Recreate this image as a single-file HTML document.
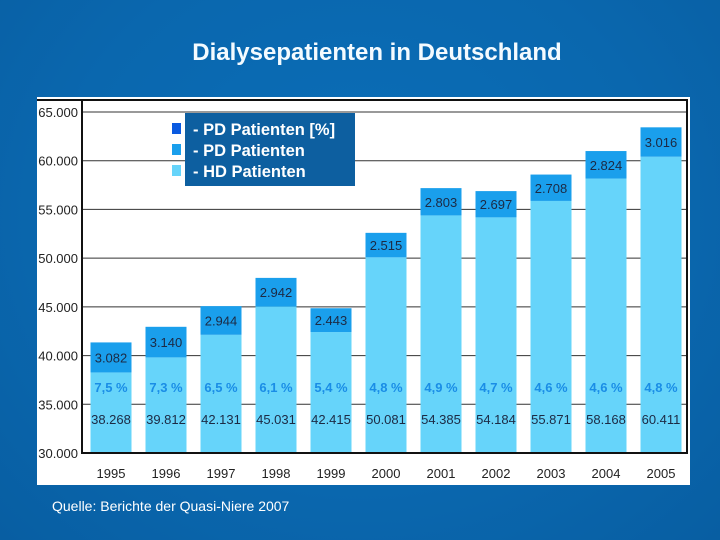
<!DOCTYPE html>
<html><head><meta charset="utf-8"><style>
html,body{margin:0;padding:0}
body{width:720px;height:540px;overflow:hidden;background:radial-gradient(ellipse at 50% 40%,#0b6eb8 0%,#0a67ae 60%,#085ea2 100%);font-family:"Liberation Sans",sans-serif;position:relative}
#title{position:absolute;left:0;width:754px;top:39px;text-align:center;color:#f4fbff;font-size:24px;font-weight:bold}
#src{position:absolute;left:52px;top:498px;color:#fff;font-size:14px}
</style></head><body>
<div id="title">Dialysepatienten in Deutschland</div>
<svg id="chart" width="720" height="540" style="position:absolute;left:0;top:0" font-family="Liberation Sans, sans-serif"></svg>
<div id="src">Quelle: Berichte der Quasi-Niere 2007</div>
<script>
const years=["1995","1996","1997","1998","1999","2000","2001","2002","2003","2004","2005"];
const hd=[38268,39812,42131,45031,42415,50081,54385,54184,55871,58168,60411];
const pd=[3082,3140,2944,2942,2443,2515,2803,2697,2708,2824,3016];
const hdLabels=["38.268","39.812","42.131","45.031","42.415","50.081","54.385","54.184","55.871","58.168","60.411"];
const pdLabels=["3.082","3.140","2.944","2.942","2.443","2.515","2.803","2.697","2.708","2.824","3.016"];
const pct=["7,5 %","7,3 %","6,5 %","6,1 %","5,4 %","4,8 %","4,9 %","4,7 %","4,6 %","4,6 %","4,8 %"];
const yTicks=[30000,35000,40000,45000,50000,55000,60000,65000];
const yTickLabels=["30.000","35.000","40.000","45.000","50.000","55.000","60.000","65.000"];
const NS="http://www.w3.org/2000/svg";
const svg=document.getElementById('chart');
const L=82,R=687,T=100,B=453;
const y=v=>453-(v-30000)*(453-112)/35000;
const x=i=>111+i*55;
const bw=41;
function mk(tag,attrs,parent){const e=document.createElementNS(NS,tag);for(const k in attrs)e.setAttribute(k,attrs[k]);(parent||svg).appendChild(e);return e;}
let p=mk('rect',{x:37,y:97,width:653,height:388,fill:'#fff'});


yTicks.forEach((t,i)=>{
  let g=mk('line',{x1:L,x2:R,y1:y(t),y2:y(t),stroke:'#333','stroke-width':1});
  
  
  let tx=mk('text',{x:78,y:y(t)+5,'text-anchor':'end','font-size':13,fill:'#222'});
  tx.textContent=yTickLabels[i];
  
  
});
years.forEach((yr,i)=>{
  const cx=x(i);
  let b1=mk('rect',{x:cx-bw/2,y:y(hd[i]),width:bw,height:y(30000)-y(hd[i]),fill:'#66d4fa'});
  
  
  let b2=mk('rect',{x:cx-bw/2,y:y(hd[i]+pd[i]),width:bw,height:y(hd[i])-y(hd[i]+pd[i]),fill:'#1a9fec'});
  
  
  let t1=mk('text',{x:cx,y:424,'text-anchor':'middle','font-size':13,fill:'#1c2a44'});
  t1.textContent=hdLabels[i];
  
  
  let t2=mk('text',{x:cx,y:392,'text-anchor':'middle','font-size':13,'font-weight':'bold',fill:'#1a8de6'});
  t2.textContent=pct[i];
  
  
  const mid=(y(hd[i])+y(hd[i]+pd[i]))/2;
  let t3=mk('text',{x:cx,y:mid+5,'text-anchor':'middle','font-size':13,fill:'#1c2a44'});
  t3.textContent=pdLabels[i];
  
  
  let t4=mk('text',{x:cx,y:478,'text-anchor':'middle','font-size':13,fill:'#222'});
  t4.textContent=yr;
  
  
});
let fr=mk('path',{d:`M37 ${T} H${R} V${B} H${L} V${T}`,fill:'none',stroke:'#111','stroke-width':2});


let lb=mk('rect',{x:185,y:113,width:170,height:73,fill:'#0d5fa0'});


const legText=["- PD Patienten [%]","- PD Patienten","- HD Patienten"];
const legCol=["#0a5ae0","#1a9fec","#66d4fa"];
legText.forEach((s,i)=>{
  let sq=mk('rect',{x:172,y:123+i*21,width:9,height:11,fill:legCol[i]});
  
  
  let t=mk('text',{x:193,y:135+i*21,'font-size':16.5,'font-weight':'bold',fill:'#fff'});
  t.textContent=s;
  
  
});
</script>
</body></html>
